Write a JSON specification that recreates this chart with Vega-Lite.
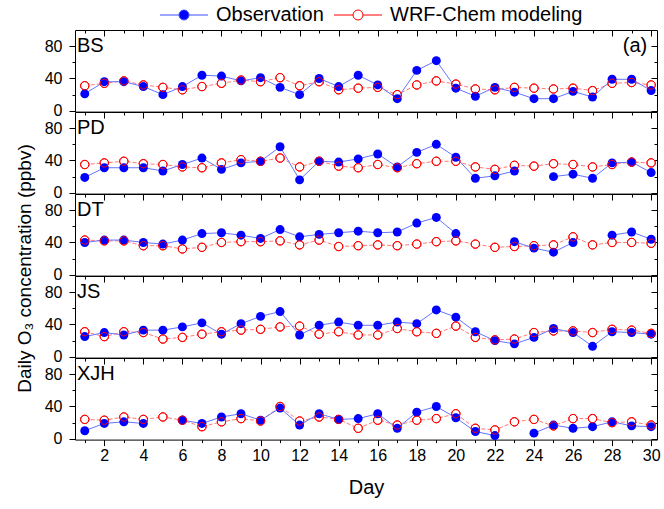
{
"$schema": "https://vega.github.io/schema/vega-lite/v6.json",
"padding": {"left": 14, "top": 5, "right": 5, "bottom": 5},
"spacing": 0,
"bounds": "flush",
"data": {"values": [
{"s":"BS","d":1,"o":21,"m":31},{"s":"BS","d":2,"o":36,"m":34},{"s":"BS","d":3,"o":36,"m":37},{"s":"BS","d":4,"o":30,"m":32},{"s":"BS","d":5,"o":20,"m":29},{"s":"BS","d":6,"o":30,"m":26},{"s":"BS","d":7,"o":44,"m":30},{"s":"BS","d":8,"o":43,"m":34},{"s":"BS","d":9,"o":37,"m":38},{"s":"BS","d":10,"o":41,"m":36},{"s":"BS","d":11,"o":29,"m":41},{"s":"BS","d":12,"o":20,"m":31},{"s":"BS","d":13,"o":40,"m":36},{"s":"BS","d":14,"o":30,"m":26},{"s":"BS","d":15,"o":44,"m":28},{"s":"BS","d":16,"o":32,"m":29},{"s":"BS","d":17,"o":15,"m":20},{"s":"BS","d":18,"o":50,"m":32},{"s":"BS","d":19,"o":62,"m":37},{"s":"BS","d":20,"o":28,"m":33},{"s":"BS","d":21,"o":18,"m":27},{"s":"BS","d":22,"o":29,"m":26},{"s":"BS","d":23,"o":23,"m":29},{"s":"BS","d":24,"o":15,"m":28},{"s":"BS","d":25,"o":15,"m":27},{"s":"BS","d":26,"o":24,"m":28},{"s":"BS","d":27,"o":17,"m":25},{"s":"BS","d":28,"o":39,"m":34},{"s":"BS","d":29,"o":39,"m":35},{"s":"BS","d":30,"o":25,"m":32},
{"s":"PD","d":1,"o":19,"m":35},{"s":"PD","d":2,"o":31,"m":37},{"s":"PD","d":3,"o":31,"m":39},{"s":"PD","d":4,"o":31,"m":36},{"s":"PD","d":5,"o":27,"m":35},{"s":"PD","d":6,"o":35,"m":32},{"s":"PD","d":7,"o":43,"m":31},{"s":"PD","d":8,"o":29,"m":37},{"s":"PD","d":9,"o":37,"m":41},{"s":"PD","d":10,"o":39,"m":39},{"s":"PD","d":11,"o":57,"m":43},{"s":"PD","d":12,"o":16,"m":32},{"s":"PD","d":13,"o":39,"m":39},{"s":"PD","d":14,"o":38,"m":33},{"s":"PD","d":15,"o":42,"m":31},{"s":"PD","d":16,"o":48,"m":35},{"s":"PD","d":17,"o":32,"m":31},{"s":"PD","d":18,"o":50,"m":36},{"s":"PD","d":19,"o":60,"m":39},{"s":"PD","d":20,"o":44,"m":39},{"s":"PD","d":21,"o":18,"m":32},{"s":"PD","d":22,"o":21,"m":29},{"s":"PD","d":23,"o":27,"m":34},{"s":"PD","d":24,"o":null,"m":33},{"s":"PD","d":25,"o":20,"m":36},{"s":"PD","d":26,"o":23,"m":35},{"s":"PD","d":27,"o":18,"m":32},{"s":"PD","d":28,"o":37,"m":35},{"s":"PD","d":29,"o":38,"m":38},{"s":"PD","d":30,"o":25,"m":37},
{"s":"DT","d":1,"o":40,"m":43},{"s":"DT","d":2,"o":43,"m":42},{"s":"DT","d":3,"o":43,"m":42},{"s":"DT","d":4,"o":40,"m":36},{"s":"DT","d":5,"o":38,"m":36},{"s":"DT","d":6,"o":43,"m":32},{"s":"DT","d":7,"o":51,"m":34},{"s":"DT","d":8,"o":52,"m":40},{"s":"DT","d":9,"o":49,"m":41},{"s":"DT","d":10,"o":45,"m":41},{"s":"DT","d":11,"o":56,"m":42},{"s":"DT","d":12,"o":47,"m":37},{"s":"DT","d":13,"o":50,"m":43},{"s":"DT","d":14,"o":52,"m":35},{"s":"DT","d":15,"o":54,"m":36},{"s":"DT","d":16,"o":52,"m":37},{"s":"DT","d":17,"o":53,"m":36},{"s":"DT","d":18,"o":64,"m":38},{"s":"DT","d":19,"o":71,"m":41},{"s":"DT","d":20,"o":51,"m":42},{"s":"DT","d":21,"o":null,"m":38},{"s":"DT","d":22,"o":null,"m":34},{"s":"DT","d":23,"o":41,"m":35},{"s":"DT","d":24,"o":33,"m":36},{"s":"DT","d":25,"o":28,"m":37},{"s":"DT","d":26,"o":40,"m":47},{"s":"DT","d":27,"o":null,"m":37},{"s":"DT","d":28,"o":49,"m":40},{"s":"DT","d":29,"o":53,"m":40},{"s":"DT","d":30,"o":44,"m":39},
{"s":"JS","d":1,"o":25,"m":31},{"s":"JS","d":2,"o":30,"m":25},{"s":"JS","d":3,"o":27,"m":31},{"s":"JS","d":4,"o":33,"m":30},{"s":"JS","d":5,"o":33,"m":22},{"s":"JS","d":6,"o":37,"m":24},{"s":"JS","d":7,"o":42,"m":28},{"s":"JS","d":8,"o":28,"m":31},{"s":"JS","d":9,"o":41,"m":33},{"s":"JS","d":10,"o":50,"m":34},{"s":"JS","d":11,"o":56,"m":37},{"s":"JS","d":12,"o":27,"m":38},{"s":"JS","d":13,"o":39,"m":28},{"s":"JS","d":14,"o":43,"m":31},{"s":"JS","d":15,"o":39,"m":27},{"s":"JS","d":16,"o":39,"m":27},{"s":"JS","d":17,"o":43,"m":35},{"s":"JS","d":18,"o":41,"m":31},{"s":"JS","d":19,"o":58,"m":29},{"s":"JS","d":20,"o":49,"m":38},{"s":"JS","d":21,"o":31,"m":24},{"s":"JS","d":22,"o":20,"m":21},{"s":"JS","d":23,"o":16,"m":22},{"s":"JS","d":24,"o":24,"m":30},{"s":"JS","d":25,"o":35,"m":32},{"s":"JS","d":26,"o":30,"m":32},{"s":"JS","d":27,"o":13,"m":30},{"s":"JS","d":28,"o":31,"m":34},{"s":"JS","d":29,"o":30,"m":33},{"s":"JS","d":30,"o":28,"m":29},
{"s":"XJH","d":1,"o":10,"m":24},{"s":"XJH","d":2,"o":19,"m":23},{"s":"XJH","d":3,"o":21,"m":27},{"s":"XJH","d":4,"o":19,"m":24},{"s":"XJH","d":5,"o":null,"m":27},{"s":"XJH","d":6,"o":23,"m":23},{"s":"XJH","d":7,"o":19,"m":15},{"s":"XJH","d":8,"o":27,"m":21},{"s":"XJH","d":9,"o":31,"m":25},{"s":"XJH","d":10,"o":23,"m":22},{"s":"XJH","d":11,"o":38,"m":40},{"s":"XJH","d":12,"o":17,"m":22},{"s":"XJH","d":13,"o":31,"m":27},{"s":"XJH","d":14,"o":24,"m":24},{"s":"XJH","d":15,"o":25,"m":13},{"s":"XJH","d":16,"o":31,"m":23},{"s":"XJH","d":17,"o":13,"m":17},{"s":"XJH","d":18,"o":33,"m":23},{"s":"XJH","d":19,"o":40,"m":25},{"s":"XJH","d":20,"o":26,"m":31},{"s":"XJH","d":21,"o":9,"m":13},{"s":"XJH","d":22,"o":4,"m":11},{"s":"XJH","d":23,"o":null,"m":21},{"s":"XJH","d":24,"o":7,"m":24},{"s":"XJH","d":25,"o":17,"m":16},{"s":"XJH","d":26,"o":13,"m":25},{"s":"XJH","d":27,"o":15,"m":25},{"s":"XJH","d":28,"o":21,"m":20},{"s":"XJH","d":29,"o":16,"m":21},{"s":"XJH","d":30,"o":15,"m":17}
]},
"vconcat": [
{
 "width": 582, "height": 81.6,
 "transform": [{"filter": "datum.s === 'BS'"}],
 "layer": [
  {"mark": {"type":"line","color":"#ff7a7a","strokeWidth":1,"strokeDash":[4,2]},
   "encoding": {
    "x": {"field":"d","type":"quantitative","scale":{"domain":[0.5,30.3],"nice":false,"zero":false},"axis":{"orient":"bottom","values":[2,4,6,8,10,12,14,16,18,20,22,24,26,28,30],"labels":false,"title":null,"tickSize":6,"domain":false}},
    "y": {"field":"m","type":"quantitative","scale":{"domain":[-1,100],"nice":false,"zero":false},"axis":{"orient":"left","values":[0,40,80],"title":null,"tickSize":6,"labelPadding":7,"domain":false}}}},
  {"mark": {"type":"point","shape":"circle","filled":true,"fill":"#ffffff","stroke":"#ff0000","strokeWidth":1,"size":70,"opacity":1},
   "encoding": {
    "x": {"field":"d","type":"quantitative","axis":{"orient":"bottom","values":[1,3,5,7,9,11,13,15,17,19,21,23,25,27,29],"labels":false,"title":null,"tickSize":3,"domain":false}},
    "y": {"field":"m","type":"quantitative","axis":{"orient":"left","values":[20,60],"labels":false,"title":null,"tickSize":3,"domain":false}}}},
  {"mark": {"type":"line","color":"#6674ff","strokeWidth":1},
   "encoding": {
    "x": {"field":"d","type":"quantitative","axis":{"orient":"top","values":[2,4,6,8,10,12,14,16,18,20,22,24,26,28,30],"labels":false,"title":null,"tickSize":-6,"domain":false}},
    "y": {"field":"o","type":"quantitative","axis":{"orient":"right","values":[0,40,80],"labels":false,"title":null,"tickSize":-6,"domain":false}}}},
  {"mark": {"type":"point","shape":"circle","filled":true,"size":80,"opacity":1},
   "encoding": {
    "x": {"field":"d","type":"quantitative","axis":{"orient":"top","values":[1,3,5,7,9,11,13,15,17,19,21,23,25,27,29],"labels":false,"title":null,"tickSize":-3,"domain":false}},
    "y": {"field":"o","type":"quantitative","axis":{"orient":"right","values":[20,60],"labels":false,"title":null,"tickSize":-3,"domain":false}},
    "fill": {"datum":"Observation","type":"nominal","scale":{"domain":["Observation"],"range":["#0000ff"]},
      "legend":{"orient":"none","legendX":99,"legendY":-25,"direction":"horizontal","title":null,
        "symbolType":"M-3.43,0H-0.71M0.71,0H3.43M-0.71,0A0.71,0.71,0,1,1,0.71,0A0.71,0.71,0,1,1,-0.71,0Z",
        "symbolSize":196,"symbolStrokeWidth":1,"symbolStrokeColor":"#3a4cff","symbolOpacity":1,"labelFontSize":20,"labelFont":"Liberation Sans","labelColor":"#000000","labelOffset":22,"labelLimit":400,"padding":0}}}},
  {"mark": {"type":"point","shape":"circle","filled":false,"strokeWidth":1,"size":70,"opacity":1},
   "encoding": {
    "x": {"field":"d","type":"quantitative","axis":null},
    "y": {"field":"m","type":"quantitative","axis":null},
    "stroke": {"datum":"WRF-Chem modeling","type":"nominal","scale":{"domain":["WRF-Chem modeling"],"range":["#ff0000"]},
      "legend":{"orient":"none","legendX":273,"legendY":-25,"direction":"horizontal","title":null,
        "symbolType":"M-3.43,0H-0.71M0.71,0H3.43M-0.71,0A0.71,0.71,0,1,1,0.71,0A0.71,0.71,0,1,1,-0.71,0Z",
        "symbolSize":196,"symbolStrokeWidth":1,"symbolFillColor":"#ffffff","symbolOpacity":1,"labelFontSize":20,"labelFont":"Liberation Sans","labelColor":"#000000","labelOffset":22,"labelLimit":400,"padding":0}}}},
  {"transform":[{"filter":"datum.d === 1"}],
   "mark": {"type":"text","align":"left","baseline":"middle","fontSize":20,"font":"Liberation Sans","color":"#000000"},
   "encoding": {"x":{"datum":0.6,"type":"quantitative","axis":null},"y":{"datum":80,"type":"quantitative","axis":null},"text":{"field":"s"}}},
  {"transform":[{"filter":"datum.d === 1"}],
   "mark": {"type":"text","align":"right","baseline":"middle","fontSize":20,"font":"Liberation Sans","color":"#000000","text":"(a)"},
   "encoding": {"x":{"datum":29.8,"type":"quantitative","axis":null},"y":{"datum":80,"type":"quantitative","axis":null}}}
 ],
 "resolve": {"axis": {"x":"independent","y":"independent"}}
},
{
 "width": 582, "height": 81.6,
 "transform": [{"filter": "datum.s === 'PD'"}],
 "layer": [
  {"mark": {"type":"line","color":"#ff7a7a","strokeWidth":1,"strokeDash":[4,2]},
   "encoding": {
    "x": {"field":"d","type":"quantitative","scale":{"domain":[0.5,30.3],"nice":false,"zero":false},"axis":{"orient":"bottom","values":[2,4,6,8,10,12,14,16,18,20,22,24,26,28,30],"labels":false,"title":null,"tickSize":6,"domain":false}},
    "y": {"field":"m","type":"quantitative","scale":{"domain":[-1,100],"nice":false,"zero":false},"axis":{"orient":"left","values":[0,40,80],"title":null,"tickSize":6,"labelPadding":7,"domain":false}}}},
  {"mark": {"type":"point","shape":"circle","filled":true,"fill":"#ffffff","stroke":"#ff0000","strokeWidth":1,"size":70,"opacity":1},
   "encoding": {
    "x": {"field":"d","type":"quantitative","axis":{"orient":"bottom","values":[1,3,5,7,9,11,13,15,17,19,21,23,25,27,29],"labels":false,"title":null,"tickSize":3,"domain":false}},
    "y": {"field":"m","type":"quantitative","axis":{"orient":"left","values":[20,60],"labels":false,"title":null,"tickSize":3,"domain":false}}}},
  {"mark": {"type":"line","color":"#6674ff","strokeWidth":1},
   "encoding": {
    "x": {"field":"d","type":"quantitative","axis":{"orient":"top","values":[2,4,6,8,10,12,14,16,18,20,22,24,26,28,30],"labels":false,"title":null,"tickSize":-6,"domain":false}},
    "y": {"field":"o","type":"quantitative","axis":{"orient":"right","values":[0,40,80],"labels":false,"title":null,"tickSize":-6,"domain":false}}}},
  {"mark": {"type":"point","shape":"circle","filled":true,"color":"#0000ff","size":80,"opacity":1},
   "encoding": {
    "x": {"field":"d","type":"quantitative","axis":{"orient":"top","values":[1,3,5,7,9,11,13,15,17,19,21,23,25,27,29],"labels":false,"title":null,"tickSize":-3,"domain":false}},
    "y": {"field":"o","type":"quantitative","axis":{"orient":"right","values":[20,60],"labels":false,"title":null,"tickSize":-3,"domain":false}}}},
  {"mark": {"type":"point","shape":"circle","filled":false,"color":"#ff0000","strokeWidth":1,"size":70,"opacity":1},
   "encoding": {"x": {"field":"d","type":"quantitative","axis":null},"y": {"field":"m","type":"quantitative","axis":null}}},
  {"transform":[{"filter":"datum.d === 1"}],
   "mark": {"type":"text","align":"left","baseline":"middle","fontSize":20,"font":"Liberation Sans","color":"#000000"},
   "encoding": {"x":{"datum":0.6,"type":"quantitative","axis":null},"y":{"datum":80,"type":"quantitative","axis":null},"text":{"field":"s"}}}
 ],
 "resolve": {"axis": {"x":"independent","y":"independent"}}
},
{
 "width": 582, "height": 81.6,
 "transform": [{"filter": "datum.s === 'DT'"}],
 "layer": [
  {"mark": {"type":"line","color":"#ff7a7a","strokeWidth":1,"strokeDash":[4,2]},
   "encoding": {
    "x": {"field":"d","type":"quantitative","scale":{"domain":[0.5,30.3],"nice":false,"zero":false},"axis":{"orient":"bottom","values":[2,4,6,8,10,12,14,16,18,20,22,24,26,28,30],"labels":false,"title":null,"tickSize":6,"domain":false}},
    "y": {"field":"m","type":"quantitative","scale":{"domain":[-1,100],"nice":false,"zero":false},"axis":{"orient":"left","values":[0,40,80],"title":"Daily O₃ concentration (ppbv)","titleFontSize":19,"titlePadding":10,"titleY":74,"tickSize":6,"labelPadding":7,"domain":false}}}},
  {"mark": {"type":"point","shape":"circle","filled":true,"fill":"#ffffff","stroke":"#ff0000","strokeWidth":1,"size":70,"opacity":1},
   "encoding": {
    "x": {"field":"d","type":"quantitative","axis":{"orient":"bottom","values":[1,3,5,7,9,11,13,15,17,19,21,23,25,27,29],"labels":false,"title":null,"tickSize":3,"domain":false}},
    "y": {"field":"m","type":"quantitative","axis":{"orient":"left","values":[20,60],"labels":false,"title":null,"tickSize":3,"domain":false}}}},
  {"mark": {"type":"line","color":"#6674ff","strokeWidth":1},
   "encoding": {
    "x": {"field":"d","type":"quantitative","axis":{"orient":"top","values":[2,4,6,8,10,12,14,16,18,20,22,24,26,28,30],"labels":false,"title":null,"tickSize":-6,"domain":false}},
    "y": {"field":"o","type":"quantitative","axis":{"orient":"right","values":[0,40,80],"labels":false,"title":null,"tickSize":-6,"domain":false}}}},
  {"mark": {"type":"point","shape":"circle","filled":true,"color":"#0000ff","size":80,"opacity":1},
   "encoding": {
    "x": {"field":"d","type":"quantitative","axis":{"orient":"top","values":[1,3,5,7,9,11,13,15,17,19,21,23,25,27,29],"labels":false,"title":null,"tickSize":-3,"domain":false}},
    "y": {"field":"o","type":"quantitative","axis":{"orient":"right","values":[20,60],"labels":false,"title":null,"tickSize":-3,"domain":false}}}},
  {"mark": {"type":"point","shape":"circle","filled":false,"color":"#ff0000","strokeWidth":1,"size":70,"opacity":1},
   "encoding": {"x": {"field":"d","type":"quantitative","axis":null},"y": {"field":"m","type":"quantitative","axis":null}}},
  {"transform":[{"filter":"datum.d === 1"}],
   "mark": {"type":"text","align":"left","baseline":"middle","fontSize":20,"font":"Liberation Sans","color":"#000000"},
   "encoding": {"x":{"datum":0.6,"type":"quantitative","axis":null},"y":{"datum":80,"type":"quantitative","axis":null},"text":{"field":"s"}}}
 ],
 "resolve": {"axis": {"x":"independent","y":"independent"}}
},
{
 "width": 582, "height": 81.6,
 "transform": [{"filter": "datum.s === 'JS'"}],
 "layer": [
  {"mark": {"type":"line","color":"#ff7a7a","strokeWidth":1,"strokeDash":[4,2]},
   "encoding": {
    "x": {"field":"d","type":"quantitative","scale":{"domain":[0.5,30.3],"nice":false,"zero":false},"axis":{"orient":"bottom","values":[2,4,6,8,10,12,14,16,18,20,22,24,26,28,30],"labels":false,"title":null,"tickSize":6,"domain":false}},
    "y": {"field":"m","type":"quantitative","scale":{"domain":[-1,100],"nice":false,"zero":false},"axis":{"orient":"left","values":[0,40,80],"title":null,"tickSize":6,"labelPadding":7,"domain":false}}}},
  {"mark": {"type":"point","shape":"circle","filled":true,"fill":"#ffffff","stroke":"#ff0000","strokeWidth":1,"size":70,"opacity":1},
   "encoding": {
    "x": {"field":"d","type":"quantitative","axis":{"orient":"bottom","values":[1,3,5,7,9,11,13,15,17,19,21,23,25,27,29],"labels":false,"title":null,"tickSize":3,"domain":false}},
    "y": {"field":"m","type":"quantitative","axis":{"orient":"left","values":[20,60],"labels":false,"title":null,"tickSize":3,"domain":false}}}},
  {"mark": {"type":"line","color":"#6674ff","strokeWidth":1},
   "encoding": {
    "x": {"field":"d","type":"quantitative","axis":{"orient":"top","values":[2,4,6,8,10,12,14,16,18,20,22,24,26,28,30],"labels":false,"title":null,"tickSize":-6,"domain":false}},
    "y": {"field":"o","type":"quantitative","axis":{"orient":"right","values":[0,40,80],"labels":false,"title":null,"tickSize":-6,"domain":false}}}},
  {"mark": {"type":"point","shape":"circle","filled":true,"color":"#0000ff","size":80,"opacity":1},
   "encoding": {
    "x": {"field":"d","type":"quantitative","axis":{"orient":"top","values":[1,3,5,7,9,11,13,15,17,19,21,23,25,27,29],"labels":false,"title":null,"tickSize":-3,"domain":false}},
    "y": {"field":"o","type":"quantitative","axis":{"orient":"right","values":[20,60],"labels":false,"title":null,"tickSize":-3,"domain":false}}}},
  {"mark": {"type":"point","shape":"circle","filled":false,"color":"#ff0000","strokeWidth":1,"size":70,"opacity":1},
   "encoding": {"x": {"field":"d","type":"quantitative","axis":null},"y": {"field":"m","type":"quantitative","axis":null}}},
  {"transform":[{"filter":"datum.d === 1"}],
   "mark": {"type":"text","align":"left","baseline":"middle","fontSize":20,"font":"Liberation Sans","color":"#000000"},
   "encoding": {"x":{"datum":0.6,"type":"quantitative","axis":null},"y":{"datum":80,"type":"quantitative","axis":null},"text":{"field":"s"}}}
 ],
 "resolve": {"axis": {"x":"independent","y":"independent"}}
},
{
 "width": 582, "height": 81.6,
 "transform": [{"filter": "datum.s === 'XJH'"}],
 "layer": [
  {"mark": {"type":"line","color":"#ff7a7a","strokeWidth":1,"strokeDash":[4,2]},
   "encoding": {
    "x": {"field":"d","type":"quantitative","scale":{"domain":[0.5,30.3],"nice":false,"zero":false},"axis":{"orient":"bottom","values":[2,4,6,8,10,12,14,16,18,20,22,24,26,28,30],"labels":true,"labelFlush":false,"labelPadding":2,"title":"Day","titleFontSize":20,"titlePadding":14,"tickSize":6,"domain":false}},
    "y": {"field":"m","type":"quantitative","scale":{"domain":[-1,100],"nice":false,"zero":false},"axis":{"orient":"left","values":[0,40,80],"title":null,"tickSize":6,"labelPadding":7,"domain":false}}}},
  {"mark": {"type":"point","shape":"circle","filled":true,"fill":"#ffffff","stroke":"#ff0000","strokeWidth":1,"size":70,"opacity":1},
   "encoding": {
    "x": {"field":"d","type":"quantitative","axis":{"orient":"bottom","values":[1,3,5,7,9,11,13,15,17,19,21,23,25,27,29],"labels":false,"title":null,"tickSize":3,"domain":false}},
    "y": {"field":"m","type":"quantitative","axis":{"orient":"left","values":[20,60],"labels":false,"title":null,"tickSize":3,"domain":false}}}},
  {"mark": {"type":"line","color":"#6674ff","strokeWidth":1},
   "encoding": {
    "x": {"field":"d","type":"quantitative","axis":{"orient":"top","values":[2,4,6,8,10,12,14,16,18,20,22,24,26,28,30],"labels":false,"title":null,"tickSize":-6,"domain":false}},
    "y": {"field":"o","type":"quantitative","axis":{"orient":"right","values":[0,40,80],"labels":false,"title":null,"tickSize":-6,"domain":false}}}},
  {"mark": {"type":"point","shape":"circle","filled":true,"color":"#0000ff","size":80,"opacity":1},
   "encoding": {
    "x": {"field":"d","type":"quantitative","axis":{"orient":"top","values":[1,3,5,7,9,11,13,15,17,19,21,23,25,27,29],"labels":false,"title":null,"tickSize":-3,"domain":false}},
    "y": {"field":"o","type":"quantitative","axis":{"orient":"right","values":[20,60],"labels":false,"title":null,"tickSize":-3,"domain":false}}}},
  {"mark": {"type":"point","shape":"circle","filled":false,"color":"#ff0000","strokeWidth":1,"size":70,"opacity":1},
   "encoding": {"x": {"field":"d","type":"quantitative","axis":null},"y": {"field":"m","type":"quantitative","axis":null}}},
  {"transform":[{"filter":"datum.d === 1"}],
   "mark": {"type":"text","align":"left","baseline":"middle","fontSize":20,"font":"Liberation Sans","color":"#000000"},
   "encoding": {"x":{"datum":0.6,"type":"quantitative","axis":null},"y":{"datum":80,"type":"quantitative","axis":null},"text":{"field":"s"}}}
 ],
 "resolve": {"axis": {"x":"independent","y":"independent"}}
}
],
"config": {
 "font": "Liberation Sans",
 "view": {"stroke": "#000000", "strokeWidth": 1},
 "axis": {"grid": false, "tickColor": "#000000", "tickWidth": 1, "labelColor": "#000000", "labelFont": "Liberation Sans", "labelFontSize": 16, "titleFont": "Liberation Sans", "titleFontWeight": "normal", "titleColor": "#000000"}
}
}
